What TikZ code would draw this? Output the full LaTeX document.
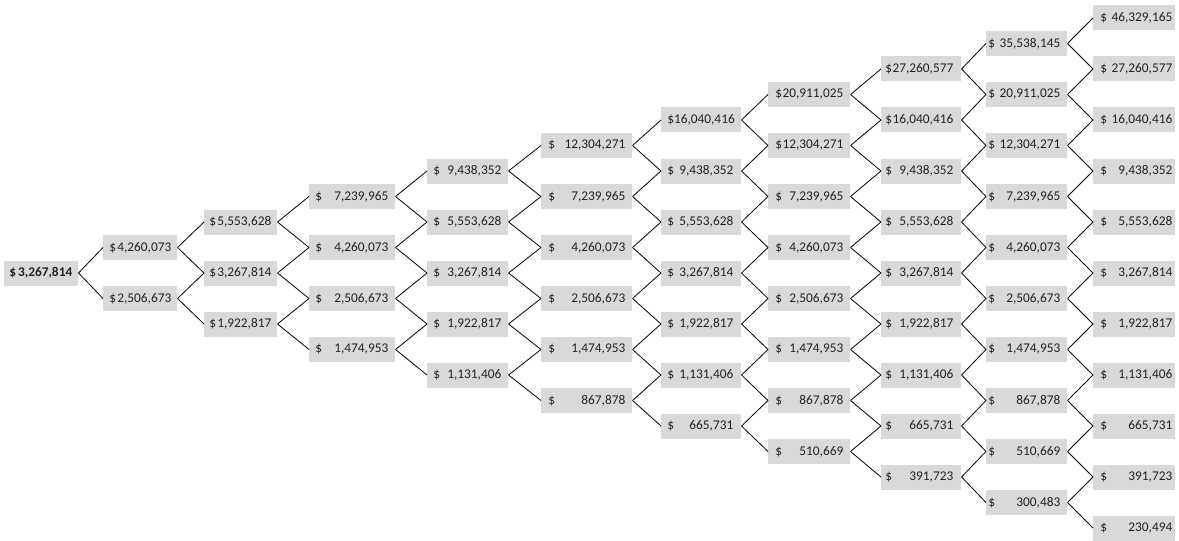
\documentclass[tikz,border=0pt]{standalone}
\usepackage{fontspec}
\setmainfont{Carlito}
\definecolor{cellgray}{HTML}{D9D9D9}
\definecolor{inkgray}{HTML}{222222}

% price at tree level #1 (-10 ... 10)
\newcommand\lvlamt[1]{\ifcase\numexpr#1+10\relax
    230,494\or 300,483\or 391,723\or 510,669\or 665,731\or 867,878\or
    1,131,406\or 1,474,953\or 1,922,817\or 2,506,673\or 3,267,814\or
    4,260,073\or 5,553,628\or 7,239,965\or 9,438,352\or 12,304,271\or
    16,040,416\or 20,911,025\or 27,260,577\or 35,538,145\or 46,329,165\fi}

\begin{document}
\begin{tikzpicture}[
    x=0.75pt, y=-0.75pt,
    cell/.style={
        fill=cellgray,
        text=inkgray,
        inner sep=0pt,
        minimum height=18.75pt,
        anchor=west,
        font=\fontsize{10}{12}\selectfont
    },
    link/.style={draw=black, line width=0.6pt}
]
    \path[fill=white] (0,0) rectangle (1179,539);

    % step / box left / box right / gap before $ / gap after number
    \foreach \c/\L/\R/\gl/\gr in {0/4/78/5/6, 1/103/177/6/6, 2/204/277/5/6,
        3/309/395/6/7, 4/427/508/6/7, 5/541/632/7/7, 6/661/741/6/8,
        7/768/850/7/7, 8/881/961/4/8, 9/986/1067/2/7, 10/1093/1175/7/3} {
        \pgfmathsetmacro\w{(\R-\L)*0.75}
        \pgfmathsetmacro\a{\gl*0.75}
        \pgfmathsetmacro\b{\gr*0.75}
        \foreach \k in {0,...,\c} {
            \pgfmathtruncatemacro\m{2*\k-\c}
            \node[cell] (n-\c-\k) at (\L, {273-25.5*(\m)})
                {\makebox[\w pt][l]{\hspace{\a pt}\ifnum\c=0 \bfseries\fi
                 \$\hfill\lvlamt{\m}\hspace{\b pt}}};
        }
    }

    \foreach \c in {0,...,9} {
        \pgfmathtruncatemacro\cn{\c+1}
        \foreach \k in {0,...,\c} {
            \pgfmathtruncatemacro\kn{\k+1}
            \draw[link] (n-\c-\k.east) -- (n-\cn-\kn.west);
            \draw[link] (n-\c-\k.east) -- (n-\cn-\k.west);
        }
    }
\end{tikzpicture}
\end{document}
